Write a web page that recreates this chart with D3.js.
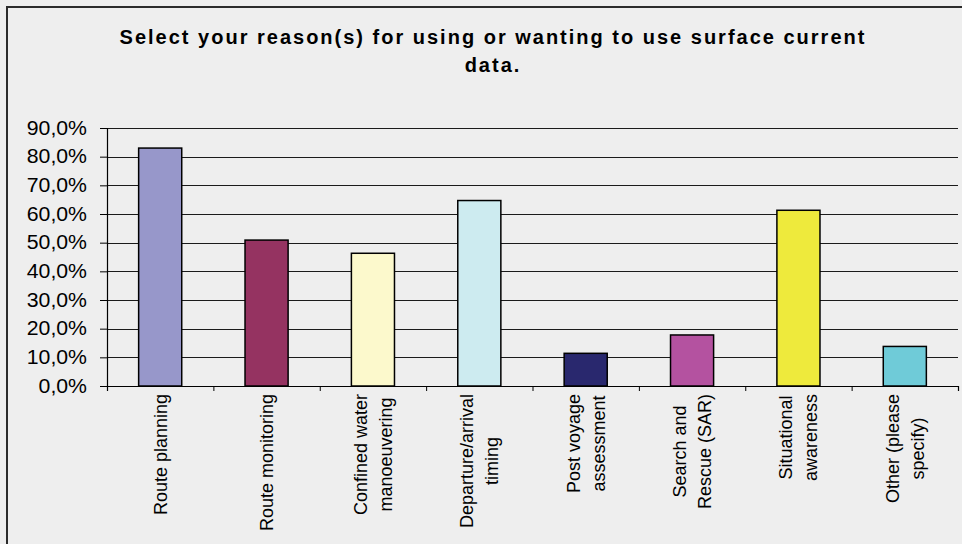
<!DOCTYPE html>
<html>
<head>
<meta charset="utf-8">
<script src="https://cdn.jsdelivr.net/npm/d3@7/dist/d3.min.js"></script>
<style>
  html, body { margin: 0; padding: 0; background: #eeeeee; }
  svg { display: block; }
  text { font-family: "Liberation Sans", Arial, sans-serif; fill: #000; }
</style>
</head>
<body>
<svg id="chart" width="962" height="544"></svg>
<script>
// Survey question and answer shares
const titleLines = [
  "Select your reason(s) for using or wanting to use surface current",
  "data."
];
const categories = [
  "Route planning",
  "Route monitoring",
  "Confined water\nmanoeuvering",
  "Departure/arrival\ntiming",
  "Post voyage\nassessment",
  "Search and\nRescue (SAR)",
  "Situational\nawareness",
  "Other (please\nspecify)"
];
const shares = [0.830, 0.509, 0.463, 0.647, 0.114, 0.178, 0.613, 0.138];
const barColors = ["#9797ca", "#953361", "#fcf9cc", "#cdebf0", "#29286e", "#b452a0", "#eeea3c", "#6fcbd8"];
const yTicks = [0, 0.1, 0.2, 0.3, 0.4, 0.5, 0.6, 0.7, 0.8, 0.9];

const svg = d3.select("#chart");
const W = 962, H = 544;
const plot = { left: 107, right: 958, top: 128, bottom: 386 };

// Background and outer frame (top and left edges)
svg.append("rect").attr("width", W).attr("height", H).attr("fill", "#eeeeee");
svg.append("path")
  .attr("d", `M7,${H} V7 H${W}`)
  .attr("fill", "none").attr("stroke", "#2b2b2b").attr("stroke-width", 2);

// Title
const title = svg.append("text")
  .attr("text-anchor", "middle")
  .attr("font-weight", "bold")
  .attr("font-size", 20)
  .attr("letter-spacing", 2);
title.selectAll("tspan").data(titleLines).join("tspan")
  .attr("x", 493)
  .attr("y", (d, i) => 44 + i * 28)
  .text(d => d);

// Scales
const x = d3.scaleBand().domain(categories).range([plot.left, plot.right]).padding(0);
const xEdges = d3.scaleLinear().domain([0, categories.length]).range([plot.left, plot.right]);
const y = d3.scaleLinear().domain([0, 0.9]).range([plot.bottom, plot.top]);
const barFrac = 0.405;

// Horizontal gridlines
svg.append("g").selectAll("line").data(yTicks.slice(1)).join("line")
  .attr("x1", plot.left).attr("x2", plot.right)
  .attr("y1", d => Math.round(y(d)) + 0.5).attr("y2", d => Math.round(y(d)) + 0.5)
  .attr("stroke", "#1a1a1a").attr("stroke-width", 1);

// Bars
svg.append("g").selectAll("rect").data(shares).join("rect")
  .attr("x", (d, i) => x(categories[i]) + x.bandwidth() * (1 - barFrac) / 2)
  .attr("width", x.bandwidth() * barFrac)
  .attr("y", d => y(d))
  .attr("height", d => y(0) - y(d))
  .attr("fill", (d, i) => barColors[i])
  .attr("stroke", "#000").attr("stroke-width", 1.5);

// Y axis
const pct = d3.formatLocale({ decimal: ",", thousands: ".", grouping: [3], currency: ["", "€"] }).format(".1%");
const yAxis = svg.append("g")
  .attr("transform", `translate(${plot.left},0)`)
  .call(d3.axisLeft(y).tickValues(yTicks).tickFormat(pct).tickSize(7));
yAxis.select(".domain").attr("stroke", "#000").attr("stroke-width", 1.2);
yAxis.selectAll(".tick line").attr("stroke", "#000");
yAxis.selectAll(".tick text")
  .attr("font-family", "Liberation Sans, Arial, sans-serif")
  .attr("font-size", 19.5).attr("fill", "#000")
  .attr("x", 0)
  .attr("transform", "translate(-20,0) scale(1.09,1)");

// X axis: category boundary ticks
const xAxis = svg.append("g")
  .attr("transform", `translate(0,${plot.bottom})`)
  .call(d3.axisBottom(xEdges).tickValues(d3.range(categories.length + 1)).tickFormat("").tickSize(5));
xAxis.select(".domain").attr("stroke", "#000").attr("stroke-width", 1.2);
xAxis.selectAll(".tick line").attr("stroke", "#000");

// Rotated category labels, lines centred on each other
const labelTop = 394;
const lineGap = 25;
const fs = 18;
const labels = svg.append("g").selectAll("g").data(categories).join("g");
labels.each(function (c) {
  const g = d3.select(this);
  const lines = c.split("\n");
  const cx = x(c) + x.bandwidth() / 2;
  const tmp = g.selectAll("text").data(lines).join("text")
    .attr("font-size", fs)
    .attr("text-anchor", "middle")
    .text(d => d);
  const maxLen = d3.max(tmp.nodes(), n => n.getComputedTextLength());
  const cy = labelTop + maxLen / 2;
  const n = lines.length;
  tmp.attr("transform", (d, i) => {
    const bx = cx + (i - (n - 1) / 2) * lineGap + fs * 0.36;
    return `translate(${bx},${cy}) rotate(-90)`;
  });
});
</script>
</body>
</html>
